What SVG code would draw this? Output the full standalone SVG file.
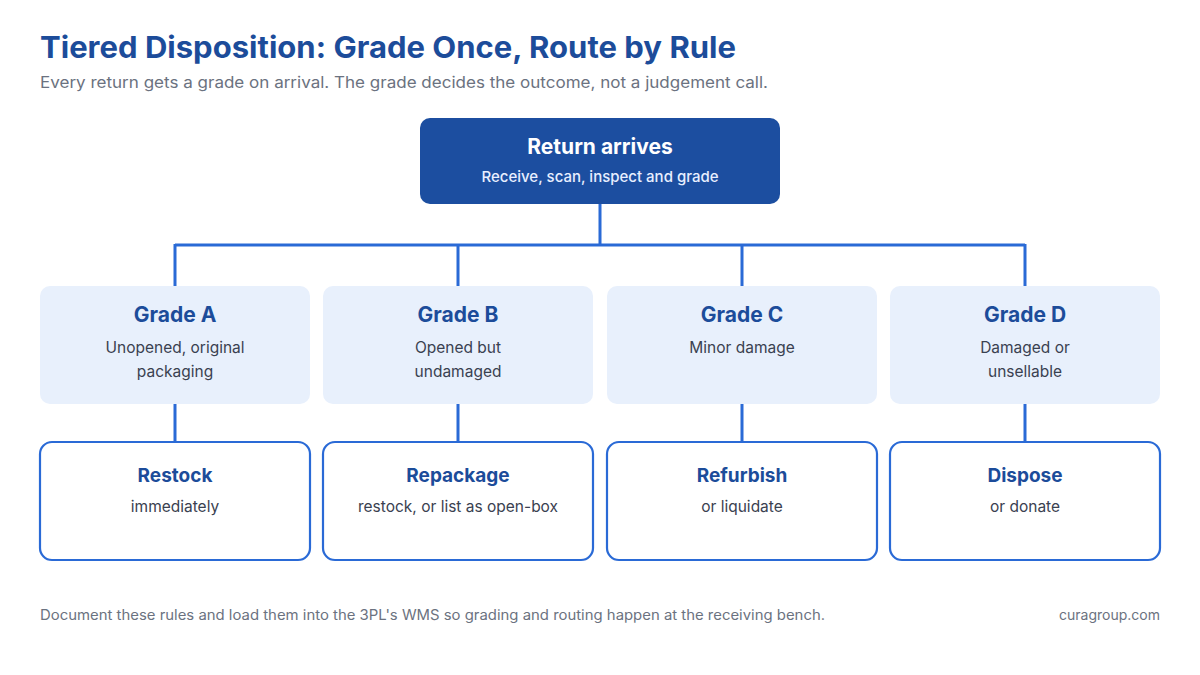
<svg xmlns="http://www.w3.org/2000/svg" width="1200" height="675" viewBox="0 0 1200 675">
<style>
text{font-family:Inter,"Noto Sans","Liberation Sans",sans-serif}
.title{font-size:30px;font-weight:700;fill:#1c4c9a}
.sub{font-size:15.5px;fill:#6b7280}
.foot{font-size:14px;fill:#6b7280}
.top{fill:#1c4ea0}
.toph{font-size:21px;font-weight:700;fill:#ffffff;text-anchor:middle}
.topt{font-size:15px;font-weight:500;fill:#e8efff;text-anchor:middle}
.grade{fill:#e8f0fc}
.gh{font-size:21px;font-weight:700;fill:#1c4c9a;text-anchor:middle}
.gt{font-size:15.5px;fill:#3a4150;text-anchor:middle}
.out{fill:#ffffff;stroke:#2a6ad6;stroke-width:2.2}
.oh{font-size:19px;font-weight:700;fill:#1c4c9a;text-anchor:middle}
.ot{font-size:15.5px;fill:#3a4150;text-anchor:middle}
.conn{fill:none;stroke:#2a6ad6;stroke-width:3}
</style>
<rect width="1200" height="675" fill="#ffffff"/>
<text class="title" x="40" y="58" textLength="696" lengthAdjust="spacingAndGlyphs">Tiered Disposition: Grade Once, Route by Rule</text>
<text class="sub" x="40" y="88" textLength="728" lengthAdjust="spacingAndGlyphs">Every return gets a grade on arrival. The grade decides the outcome, not a judgement call.</text>
<g id="connectors">
<path class="conn" d="M600 204 V245 M175 245 H1025 M175 244 V286 M458 244 V286 M742 244 V286 M1025 244 V286"/>
<path class="conn" d="M175 404 V442 M458 404 V442 M742 404 V442 M1025 404 V442"/>
</g>
<g id="return-arrives">
<rect class="top" x="420" y="118" width="360" height="86" rx="10"/>
<text class="toph" x="600" y="154">Return arrives</text>
<text class="topt" x="600" y="182">Receive, scan, inspect and grade</text>
</g>
<g id="grade-a">
<rect class="grade" x="40" y="286" width="270" height="118" rx="10"/>
<text class="gh" x="175" y="322">Grade A</text>
<text class="gt" x="175" y="353">Unopened, original</text>
<text class="gt" x="175" y="377">packaging</text>
</g>
<g id="grade-b">
<rect class="grade" x="323" y="286" width="270" height="118" rx="10"/>
<text class="gh" x="458" y="322">Grade B</text>
<text class="gt" x="458" y="353">Opened but</text>
<text class="gt" x="458" y="377">undamaged</text>
</g>
<g id="grade-c">
<rect class="grade" x="607" y="286" width="270" height="118" rx="10"/>
<text class="gh" x="742" y="322">Grade C</text>
<text class="gt" x="742" y="353">Minor damage</text>
</g>
<g id="grade-d">
<rect class="grade" x="890" y="286" width="270" height="118" rx="10"/>
<text class="gh" x="1025" y="322">Grade D</text>
<text class="gt" x="1025" y="353">Damaged or</text>
<text class="gt" x="1025" y="377">unsellable</text>
</g>
<g id="restock">
<rect class="out" x="40" y="442" width="270" height="118" rx="12"/>
<text class="oh" x="175" y="482">Restock</text>
<text class="ot" x="175" y="512">immediately</text>
</g>
<g id="repackage">
<rect class="out" x="323" y="442" width="270" height="118" rx="12"/>
<text class="oh" x="458" y="482">Repackage</text>
<text class="ot" x="458" y="512">restock, or list as open-box</text>
</g>
<g id="refurbish">
<rect class="out" x="607" y="442" width="270" height="118" rx="12"/>
<text class="oh" x="742" y="482">Refurbish</text>
<text class="ot" x="742" y="512">or liquidate</text>
</g>
<g id="dispose">
<rect class="out" x="890" y="442" width="270" height="118" rx="12"/>
<text class="oh" x="1025" y="482">Dispose</text>
<text class="ot" x="1025" y="512">or donate</text>
</g>
<text class="foot" x="40" y="620" textLength="785" lengthAdjust="spacingAndGlyphs">Document these rules and load them into the 3PL's WMS so grading and routing happen at the receiving bench.</text>
<text class="foot" x="1160" y="620" text-anchor="end">curagroup.com</text>
</svg>
